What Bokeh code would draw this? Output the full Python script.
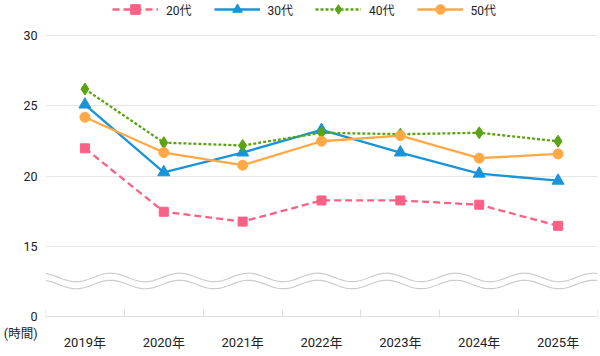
import numpy as np
from bokeh.plotting import figure
from bokeh.models import Range1d, FixedTicker, Legend, LegendItem
from bokeh.embed import file_html
from bokeh.resources import INLINE

# ---- data ----
years = ["2019年", "2020年", "2021年", "2022年", "2023年", "2024年", "2025年"]
s20 = [22.0, 17.5, 16.8, 18.3, 18.3, 18.0, 16.5]
s30 = [25.1, 20.3, 21.7, 23.3, 21.7, 20.2, 19.7]
s40 = [26.2, 22.4, 22.2, 23.1, 23.0, 23.1, 22.5]
s50 = [24.2, 21.7, 20.8, 22.5, 22.9, 21.3, 21.6]
series_names = ["20代", "30代", "40代", "50代"]
y_ticks = [15, 20, 25, 30]
unit_label = "(時間)"

FONT = "Roboto, 'Noto Sans CJK JP', sans-serif"
PX = 14.1                 # pixels per hour on the broken scale
Y0 = 10.07                # where the broken axis shows 0
YTOP = 30 + 35 / PX
YBOT = Y0 - 40 / PX
Y_UNIT = Y0 - 17 / PX
xs = [i + 0.5 for i in range(len(years))]

H, W = 356, 600

p = figure(width=W, height=H, output_backend="svg", toolbar_location=None,
           x_range=Range1d(0, len(years)), y_range=Range1d(YBOT, YTOP),
           min_border_left=42, min_border_right=3, min_border_top=0,
           min_border_bottom=0)
p.outline_line_color = None
p.xgrid.visible = False

# y axis: 15..30, the broken-axis "0" and the unit
p.yaxis.ticker = FixedTicker(ticks=[Y_UNIT, Y0] + y_ticks)
p.yaxis.major_label_overrides = {Y0: "0", Y_UNIT: unit_label}
p.yaxis.axis_line_color = None
p.yaxis.major_tick_line_color = None
p.yaxis.minor_tick_line_color = None
p.yaxis.major_label_standoff = 2
p.yaxis.major_label_text_font = FONT
p.yaxis.major_label_text_font_size = "12.5px"
p.yaxis.major_label_text_color = "#222222"
p.ygrid.ticker = FixedTicker(ticks=y_ticks)
p.ygrid.grid_line_color = "#e6e6e6"

# x axis at the 0 line
p.xaxis.fixed_location = Y0
p.xaxis.ticker = FixedTicker(ticks=xs, minor_ticks=list(range(len(years) + 1)))
p.xaxis.major_label_overrides = {x: y for x, y in zip(xs, years)}
p.xaxis.axis_line_color = "#dddddd"
p.xaxis.major_tick_line_color = None
p.xaxis.minor_tick_line_color = "#dddddd"
p.xaxis.minor_tick_in = 7
p.xaxis.minor_tick_out = 0
p.xaxis.major_label_standoff = 12
p.xaxis.major_label_text_font = FONT
p.xaxis.major_label_text_font_size = "13px"
p.xaxis.major_label_text_color = "#222222"

# axis break waves (decoration)
wx = np.linspace(0, len(years), 400)
for c in (12.84, 12.34):
    wy = c + 0.30 * np.cos(2 * np.pi * (wx + 0.05) / 0.875)
    p.line(wx, wy, line_color="#cccccc", line_width=1.2)

colors = ["#fb6184", "#1a94d8", "#5ba312", "#fea945"]
dashes = ["7 4", "solid", "3 2", "solid"]
markers = ["square", "triangle", "diamond", "circle"]
sizes = [9, 12, 12, 10]
data = [s20, s30, s40, s50]

items = []
for name, vals, col, dash, mk, sz in zip(series_names, data, colors, dashes, markers, sizes):
    r1 = p.line(xs, vals, line_color=col, line_width=2.3, line_dash=dash)
    r2 = p.scatter(xs, vals, marker=mk, size=sz, fill_color=col, line_color=col)
    items.append(LegendItem(label=name, renderers=[r1, r2]))

legend = Legend(items=items, orientation="horizontal", location=(67, H - 21),
                glyph_width=46, glyph_height=24, label_standoff=8, spacing=22,
                padding=0, margin=0, border_line_color=None, background_fill_alpha=0,
                label_text_font=FONT, label_text_font_size="12px",
                label_text_color="#222222")
p.add_layout(legend, "center")

open("out.html", "w").write(file_html(p, INLINE))
